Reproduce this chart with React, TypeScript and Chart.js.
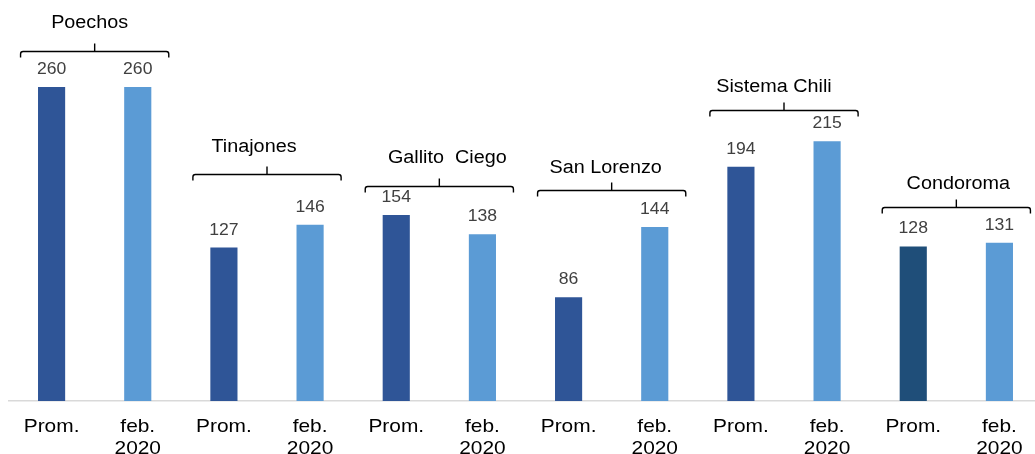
import { useEffect, useRef } from 'react';
import { Chart, registerables } from 'chart.js';

Chart.register(...registerables);

// ---- data ----
const reservoirs = ['Poechos', 'Tinajones', 'Gallito  Ciego', 'San Lorenzo', 'Sistema Chili', 'Condoroma'];
const periods = ['Prom.', 'feb. 2020'];
const promValues = [260, 127, 154, 86, 194, 128];
const febValues = [260, 146, 138, 144, 215, 131];

// annotation levels (in data units) for the group brackets and their titles
const bracketLevels = [290, 187.7, 178.2, 174.6, 241, 160.4];
const titleLevels = [309, 206.4, 197.4, 188.5, 255.6, 175.2];
const titleShift = [-5, -13, 8, -6, -10, 2];

const promColors = ['#2F5597', '#2F5597', '#2F5597', '#2F5597', '#2F5597', '#1F4E79'];
const febColor = '#5B9BD5';

const values = reservoirs.flatMap((_, i) => [promValues[i], febValues[i]]);
const labels = reservoirs.flatMap((r) => periods.map((p) => `${r}|${p}`));
const colors = reservoirs.flatMap((_, i) => [promColors[i], febColor]);

const FONT = '"Liberation Sans", Arial, sans-serif';
const SX = 1.1;

const overlay = {
  id: 'overlay',
  afterDatasetsDraw(chart: any) {
    const ctx: CanvasRenderingContext2D = chart.ctx;
    const meta = chart.getDatasetMeta(0);
    const yScale = chart.scales.y;
    const bottom = chart.chartArea.bottom;

    const drawText = (text: string, x: number, y: number, font: string, color: string) => {
      ctx.save();
      ctx.font = font;
      ctx.fillStyle = color;
      ctx.textAlign = 'center';
      ctx.textBaseline = 'alphabetic';
      ctx.translate(x, y);
      ctx.scale(SX, 1);
      ctx.fillText(text, 0, 0);
      ctx.restore();
    };

    meta.data.forEach((bar: any, i: number) => {
      drawText(String(values[i]), bar.x, bar.y - 13, `16px ${FONT}`, '#404040');
      const period = labels[i].split('|')[1];
      const lines = period === 'Prom.' ? ['Prom.'] : period.split(' ');
      lines.forEach((l, k) => drawText(l, bar.x, bottom + 31 + k * 22, `19px ${FONT}`, '#000000'));
    });

    reservoirs.forEach((name, g) => {
      const a = meta.data[2 * g];
      const b = meta.data[2 * g + 1];
      const ext = (b.x - a.x) * 0.36;
      const x1 = a.x - ext;
      const x2 = b.x + ext;
      const mid = (x1 + x2) / 2;
      const yy = Math.round(yScale.getPixelForValue(bracketLevels[g])) + 0.5;
      ctx.save();
      ctx.strokeStyle = '#000000';
      ctx.lineWidth = 1.4;
      ctx.beginPath();
      ctx.moveTo(x1, yy + 6);
      ctx.arcTo(x1, yy, x1 + 4, yy, 2.5);
      ctx.lineTo(x2 - 4, yy);
      ctx.arcTo(x2, yy, x2, yy + 6, 2.5);
      ctx.lineTo(x2, yy + 6);
      ctx.moveTo(mid, yy);
      ctx.lineTo(mid, yy - 8);
      ctx.stroke();
      ctx.restore();
      drawText(name, mid + titleShift[g], yScale.getPixelForValue(titleLevels[g]), `18px ${FONT}`, '#000000');
    });
  },
};

export default function App() {
  const ref = useRef<HTMLCanvasElement>(null);
  useEffect(() => {
    if (!ref.current) return;
    const chart = new Chart(ref.current, {
      type: 'bar',
      data: {
        labels,
        datasets: [
          {
            data: values,
            backgroundColor: colors,
            borderWidth: 0,
            barPercentage: 0.315,
            categoryPercentage: 1,
          },
        ],
      },
      options: {
        responsive: false,
        animation: false,
        devicePixelRatio: 1,
        layout: { padding: { left: 8.5, right: 7.5, top: 0, bottom: 0 } },
        plugins: { legend: { display: false }, tooltip: { enabled: false }, title: { display: false } },
        scales: {
          x: {
            grid: { display: false },
            border: { display: true, color: '#D9D9D9', width: 1.5 },
            ticks: { display: false },
            afterFit: (scale: any) => {
              scale.height = 53;
            },
          },
          y: { display: false, min: 0, max: 332 },
        },
      },
      plugins: [overlay],
    });
    return () => chart.destroy();
  }, []);
  return (
    <div style={{ position: 'absolute', left: 0, top: 0, width: 1035, height: 454, overflow: 'hidden', background: '#fff' }}>
      <canvas ref={ref} width={1050} height={454} style={{ display: 'block', width: 1050, height: 454 }} />
    </div>
  );
}
